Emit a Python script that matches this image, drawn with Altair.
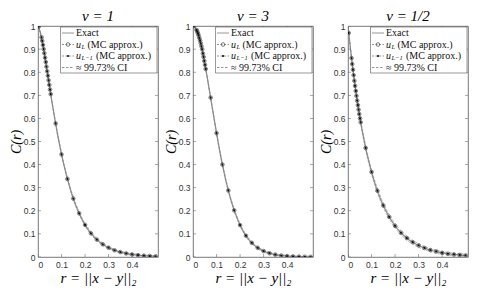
import altair as alt
import pandas as pd

# ---------------- data ----------------
TITLES = ["ν = 1", "ν = 3", "ν = 1/2"]

R_EXACT = [0.00, 0.01, 0.02, 0.03, 0.04, 0.05, 0.06, 0.07, 0.08, 0.09,
           0.10, 0.11, 0.12, 0.13, 0.14, 0.15, 0.16, 0.17, 0.18, 0.19,
           0.20, 0.21, 0.22, 0.23, 0.24, 0.25, 0.26, 0.27, 0.28, 0.29,
           0.30, 0.31, 0.32, 0.33, 0.34, 0.35, 0.36, 0.37, 0.38, 0.39,
           0.40, 0.41, 0.42, 0.43, 0.44, 0.45, 0.46, 0.47, 0.48, 0.49, 0.50]

EX_NU1 = [1.000, 0.974, 0.924, 0.863, 0.798, 0.732, 0.667, 0.606, 0.548, 0.495, 0.4445,
          0.399, 0.358, 0.320, 0.285, 0.253, 0.225, 0.2005, 0.178, 0.157, 0.139,
          0.123, 0.109, 0.0964, 0.0853, 0.0753, 0.0665, 0.0587, 0.0517, 0.0456, 0.0401,
          0.0354, 0.0312, 0.0274, 0.0241, 0.0212, 0.0186, 0.0163, 0.0143, 0.0126, 0.0110,
          0.0097, 0.0085, 0.0075, 0.0066, 0.0058, 0.0051, 0.0045, 0.0039, 0.0035, 0.0030]

EX_NU3 = [1.000, 0.9925, 0.971, 0.937, 0.892, 0.838, 0.781, 0.719, 0.658, 0.597, 0.536,
          0.479, 0.425, 0.376, 0.330, 0.288, 0.251, 0.217, 0.188, 0.162, 0.138,
          0.1178, 0.1000, 0.0850, 0.0723, 0.0612, 0.0515, 0.0434, 0.0365, 0.0307, 0.0256,
          0.0214, 0.0179, 0.0149, 0.0123, 0.0102, 0.0085, 0.0070, 0.0058, 0.0048, 0.0040,
          0.0033, 0.0027, 0.0022, 0.0018, 0.0015, 0.0012, 0.0010, 0.0008, 0.0006, 0.0005]

EX_NUH = [1.000, 0.905, 0.819, 0.741, 0.670, 0.607, 0.549, 0.497, 0.449, 0.407, 0.368,
          0.333, 0.301, 0.273, 0.247, 0.223, 0.202, 0.183, 0.165, 0.150, 0.135,
          0.122, 0.111, 0.100, 0.091, 0.082, 0.074, 0.067, 0.061, 0.055, 0.050,
          0.045, 0.041, 0.037, 0.033, 0.030, 0.027, 0.025, 0.022, 0.020, 0.018,
          0.017, 0.015, 0.014, 0.012, 0.011, 0.010, 0.009, 0.008, 0.007, 0.007]

# confidence-interval half widths, on every second exact point
R_CI = [0.00, 0.02, 0.04, 0.06, 0.08, 0.10, 0.12, 0.14, 0.16, 0.18, 0.20, 0.22, 0.24,
        0.26, 0.28, 0.30, 0.32, 0.34, 0.36, 0.38, 0.40, 0.42, 0.44, 0.46, 0.48, 0.50]
HW_NU1 = [0, 0.002, 0.003, 0.004, 0.005, 0.005, 0.006, 0.006, 0.006, 0.006, 0.006, 0.006, 0.005,
          0.005, 0.005, 0.005, 0.004, 0.004, 0.004, 0.004, 0.004, 0.004, 0.003, 0.003, 0.003, 0.003]
HW_NU3 = [0, 0.001, 0.002, 0.003, 0.004, 0.005, 0.005, 0.005, 0.005, 0.005, 0.005, 0.005, 0.005,
          0.004, 0.004, 0.004, 0.004, 0.004, 0.003, 0.003, 0.003, 0.003, 0.003, 0.003, 0.003, 0.003]
HW_NUH = [0, 0.006, 0.008, 0.009, 0.010, 0.010, 0.010, 0.010, 0.010, 0.010, 0.010, 0.009, 0.009,
          0.009, 0.008, 0.008, 0.008, 0.007, 0.007, 0.007, 0.006, 0.006, 0.006, 0.006, 0.006, 0.006]

# Monte-Carlo approximation markers
R_MK = [0.003, 0.015, 0.018, 0.021, 0.024, 0.027, 0.030, 0.033, 0.036, 0.039, 0.042, 0.045,
        0.048, 0.051, 0.054, 0.075, 0.100, 0.125, 0.150, 0.175, 0.200, 0.225, 0.250, 0.275,
        0.300, 0.325, 0.350, 0.375, 0.400, 0.425, 0.450, 0.475, 0.500]
MK_NU1 = [0.997, 0.951, 0.936, 0.918, 0.900, 0.882, 0.863, 0.844, 0.824, 0.804, 0.785, 0.765,
          0.745, 0.725, 0.705, 0.578, 0.444, 0.338, 0.253, 0.189, 0.139, 0.1025, 0.0753, 0.0551,
          0.0401, 0.0292, 0.0212, 0.0153, 0.0110, 0.0080, 0.0058, 0.0041, 0.0030]
MK_NU3 = [0.999, 0.983, 0.976, 0.968, 0.959, 0.948, 0.937, 0.925, 0.912, 0.899, 0.881, 0.866,
          0.849, 0.832, 0.814, 0.690, 0.536, 0.400, 0.288, 0.202, 0.138, 0.0923, 0.0612, 0.0398,
          0.0256, 0.0163, 0.0102, 0.0064, 0.0040, 0.0025, 0.0015, 0.0009, 0.0006]
MK_NUH = [0.970, 0.861, 0.835, 0.811, 0.787, 0.763, 0.741, 0.719, 0.698, 0.677, 0.657, 0.638,
          0.619, 0.600, 0.583, 0.472, 0.368, 0.287, 0.223, 0.174, 0.135, 0.105, 0.082, 0.064,
          0.050, 0.039, 0.030, 0.024, 0.018, 0.014, 0.011, 0.009, 0.007]

XTICKS = [0, 0.1, 0.2, 0.3, 0.4]
YTICKS = [0, 0.1, 0.2, 0.3, 0.4, 0.5, 0.6, 0.7, 0.8, 0.9, 1]
LEG_TEXT = ["Exact", "(MC approx.)", "(MC approx.)", "≈ 99.73% CI"]

# ---------------- styling ----------------
W, H = 120, 231
SERIF = "Liberation Serif"
SANS = "Liberation Sans"
XS = alt.Scale(domain=[0, 0.51], nice=False, zero=False)
YS = alt.Scale(domain=[0, 1], nice=False)
LINE_C = "#8a8a8a"
FRAME_C = "#555555"
XAX = alt.Axis(values=XTICKS, format="~g", title="r = ||x − y||₂")
YAX = alt.Axis(values=YTICKS, format="~g", title="C(r)", titleFontSize=14, titlePadding=0)


def xe():
    return alt.X("r:Q", scale=XS, axis=XAX)


def ye():
    return alt.Y("C:Q", scale=YS, axis=YAX)


def legend_layers():
    one = pd.DataFrame({"k": [0]})
    L = []
    L.append(alt.Chart(one).mark_rect(fill="white", stroke=FRAME_C, strokeWidth=0.6).encode(
        x=alt.value(22.5), x2=alt.value(119), y=alt.value(1), y2=alt.value(47)))
    rows = [7, 18.5, 30, 41.5]
    dashes = [[1, 0], [2, 1.5], [2, 1.5], [2.5, 1.5]]
    for yy, dd in zip(rows, dashes):
        L.append(alt.Chart(one).mark_rule(color=LINE_C, strokeWidth=0.9, strokeDash=dd).encode(
            x=alt.value(24), x2=alt.value(36), y=alt.value(yy)))
    L.append(alt.Chart(one).mark_point(shape="circle", filled=False, color="#444444", size=13,
                                       strokeWidth=1).encode(x=alt.value(30), y=alt.value(rows[1])))
    L.append(alt.Chart(one).mark_point(shape="circle", filled=True, color="#111111", size=5,
                                       opacity=1).encode(x=alt.value(30), y=alt.value(rows[2])))
    tstyle = dict(font=SERIF, fontSize=10, color="#111111", align="left", baseline="middle")
    sub = {**tstyle, "fontSize": 6.5}
    L.append(alt.Chart(one).mark_text(text=LEG_TEXT[0], **tstyle).encode(
        x=alt.value(38), y=alt.value(rows[0])))
    L.append(alt.Chart(one).mark_text(text="u", fontStyle="italic", **tstyle).encode(
        x=alt.value(38), y=alt.value(rows[1])))
    L.append(alt.Chart(one).mark_text(text="L", fontStyle="italic", dy=2, **sub).encode(
        x=alt.value(43.5), y=alt.value(rows[1])))
    L.append(alt.Chart(one).mark_text(text=LEG_TEXT[1], **tstyle).encode(
        x=alt.value(49.5), y=alt.value(rows[1])))
    L.append(alt.Chart(one).mark_text(text="u", fontStyle="italic", **tstyle).encode(
        x=alt.value(38), y=alt.value(rows[2])))
    L.append(alt.Chart(one).mark_text(text="L−1", fontStyle="italic", dy=2, **sub).encode(
        x=alt.value(43.5), y=alt.value(rows[2])))
    L.append(alt.Chart(one).mark_text(text=LEG_TEXT[2], **tstyle).encode(
        x=alt.value(58), y=alt.value(rows[2])))
    L.append(alt.Chart(one).mark_text(text=LEG_TEXT[3], **tstyle).encode(
        x=alt.value(38), y=alt.value(rows[3])))
    return L


def panel(title, exact, hw, mk):
    df_ex = pd.DataFrame({"r": R_EXACT, "C": exact})
    lo = [exact[2 * i] - hw[i] for i in range(len(R_CI))]
    hi = [exact[2 * i] + hw[i] for i in range(len(R_CI))]
    df_ci = pd.DataFrame({"r": R_CI + R_CI, "C": lo + hi, "s": ["lo"] * len(R_CI) + ["hi"] * len(R_CI)})
    df_mk = pd.DataFrame({"r": R_MK, "C": mk})

    ci = alt.Chart(df_ci).mark_line(color="#9a9a9a", strokeWidth=0.7, strokeDash=[2.5, 1.5], clip=True).encode(
        x=xe(), y=ye(), detail="s:N")
    ex = alt.Chart(df_ex).mark_line(color=LINE_C, strokeWidth=1.2, clip=True).encode(x=xe(), y=ye())
    m1 = alt.Chart(df_mk).mark_point(shape="circle", filled=False, color="#444444", size=13,
                                     strokeWidth=1, clip=True).encode(x=xe(), y=ye())
    m2 = alt.Chart(df_mk).mark_point(shape="circle", filled=True, color="#111111", size=5,
                                     opacity=1, clip=True).encode(x=xe(), y=ye())

    xt = pd.DataFrame({"r": XTICKS})
    yt = pd.DataFrame({"C": YTICKS})
    tk = dict(color=FRAME_C, thickness=0.7, size=6, clip=True)
    ticks = [
        alt.Chart(xt).mark_tick(orient="vertical", **tk).encode(x=xe(), y=alt.value(H)),
        alt.Chart(xt).mark_tick(orient="vertical", **tk).encode(x=xe(), y=alt.value(0)),
        alt.Chart(yt).mark_tick(orient="horizontal", **tk).encode(y=ye(), x=alt.value(0)),
        alt.Chart(yt).mark_tick(orient="horizontal", **tk).encode(y=ye(), x=alt.value(W)),
    ]
    layers = [ci, ex, m1, m2] + ticks + legend_layers()
    return alt.layer(*layers).properties(
        width=W, height=H,
        title=alt.TitleParams(text=title, font=SERIF, fontSize=15, fontWeight="normal",
                              fontStyle="italic", color="#000000", offset=-4, dy=-2,
                              anchor="middle"))


panels = [panel(TITLES[0], EX_NU1, HW_NU1, MK_NU1),
          panel(TITLES[1], EX_NU3, HW_NU3, MK_NU3),
          panel(TITLES[2], EX_NUH, HW_NUH, MK_NUH)]

chart = alt.hconcat(*panels, spacing=4).properties(
    padding={"left": 0, "top": 0, "right": 0, "bottom": 0}
).configure_view(stroke=FRAME_C, strokeWidth=0.8).configure_axis(
    labelFont=SANS, labelFontSize=8.5, labelColor="#333333", labelPadding=3,
    ticks=False, domain=False, grid=False,
    titleFont=SERIF, titleFontSize=15, titleFontStyle="italic", titleFontWeight="normal",
    titleColor="#000000", titlePadding=2)

chart.save("out.html", embed_options={"renderer": "svg", "actions": False})
